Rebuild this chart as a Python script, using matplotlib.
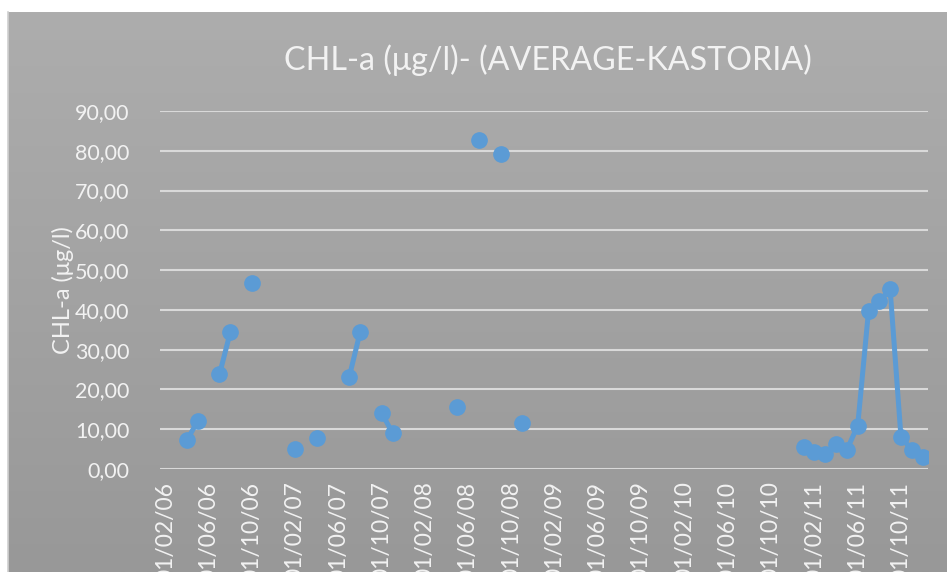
import numpy as np
import pandas as pd
import matplotlib
matplotlib.use("Agg")
import matplotlib.pyplot as plt

plt.rcParams["font.family"] = ["Lato", "DejaVu Sans"]

BLUE = "#5b9bd5"
TEXT = "#f2f2f2"
GRID = "#d9d9d9"

# monthly averages of chlorophyll-a, Lake Kastoria (blank months are not plotted)
sample_months = [
    "2006-04", "2006-05", "2006-07", "2006-08", "2006-10",
    "2007-02", "2007-04", "2007-07", "2007-08", "2007-10", "2007-11",
    "2008-05", "2008-07", "2008-09", "2008-11",
    "2011-01", "2011-02", "2011-03", "2011-04", "2011-05", "2011-06",
    "2011-07", "2011-08", "2011-09", "2011-10", "2011-11", "2011-12",
]
chl_values = [
    7.3, 12.1, 23.8, 34.4, 46.7,
    5.0, 7.9, 23.2, 34.4, 14.0, 9.1,
    15.6, 82.7, 79.1, 11.5,
    5.6, 4.3, 3.8, 6.2, 4.8, 10.9,
    39.7, 42.2, 45.2, 8.1, 4.8, 2.9,
]
y_ticks = [0, 10, 20, 30, 40, 50, 60, 70, 80, 90]

months = pd.period_range("2006-02", "2011-12", freq="M")
series = pd.Series(chl_values, index=pd.PeriodIndex(sample_months, freq="M"))
series = series.reindex(months)
x = np.arange(len(months))

fig = plt.figure(figsize=(9.47, 5.72), dpi=100)
fig.patch.set_facecolor("white")

# grey chart area with a soft vertical gradient
bg = fig.add_axes([8 / 947, 0, 1 - 8 / 947, 560 / 572])
grad = np.linspace(0, 1, 256).reshape(-1, 1)
bg.imshow(grad, aspect="auto", cmap=matplotlib.colors.LinearSegmentedColormap.from_list(
    "g", ["#adadad", "#989898"]), extent=[0, 1, 0, 1], origin="upper")
bg.set_axis_off()
fig.add_artist(plt.Line2D([8 / 947, 8 / 947], [0, 560 / 572], color="#d0d0d0", lw=1.2))

ax = fig.add_axes([160 / 947, 103 / 572, 768 / 947, 358 / 572])
ax.patch.set_alpha(0)
ax.plot(x, series.values, color=BLUE, lw=3.6, marker="o", ms=11,
        solid_capstyle="round", zorder=3)

ax.set_xlim(-0.5, len(months) - 0.5)
ax.set_ylim(0, 90)
ax.set_yticks(y_ticks)
ax.set_yticklabels([f"{v:.2f}".replace(".", ",") for v in y_ticks])
tick_idx = x[::4]
ax.set_xticks(tick_idx)
ax.set_xticklabels([months[i].strftime("01/%m/%y") for i in tick_idx], rotation=90)

ax.grid(axis="y", color=GRID, lw=1.5)
ax.set_axisbelow(True)
for s in ax.spines.values():
    s.set_visible(False)
ax.tick_params(axis="both", length=0, colors=TEXT)
ax.tick_params(axis="y", pad=22, labelsize=15.5)
ax.tick_params(axis="x", pad=9, labelsize=16.5)

ax.set_ylabel("CHL-a (μg/l)", color=TEXT, fontsize=17)
ax.yaxis.set_label_coords(-86 / 768, 0.5)
fig.text(548 / 947, 1 - 60 / 572, "CHL-a (μg/l)- (AVERAGE-KASTORIA)",
         color=TEXT, fontsize=23.2, ha="center", va="center")

fig.savefig("out.png", dpi=100)
